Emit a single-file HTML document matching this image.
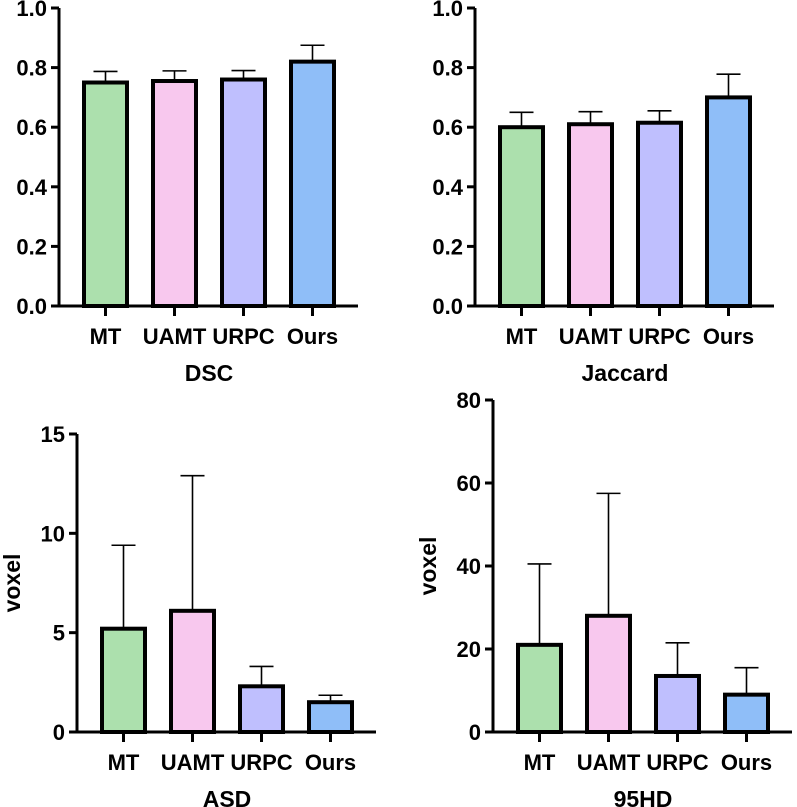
<!DOCTYPE html>
<html><head><meta charset="utf-8"><style>
body{margin:0;background:#fff;}
svg{display:block;font-family:"Liberation Sans",Arial,sans-serif;font-weight:bold;}
</style></head><body>
<svg id="c" width="797" height="807"></svg>
<script>
const categories=["MT","UAMT","URPC","Ours"];
const colors=["#ace0ad","#f8c8ee","#bfbffe","#8fbef8"];
const dscValues=[0.75,0.755,0.76,0.82];
const dscErr=[0.787,0.789,0.79,0.875];
const jacValues=[0.60,0.61,0.615,0.70];
const jacErr=[0.65,0.652,0.655,0.778];
const asdValues=[5.2,6.1,2.3,1.5];
const asdErr=[9.4,12.9,3.3,1.85];
const hdValues=[21,28,13.5,9];
const hdErr=[40.5,57.5,21.5,15.5];
const dscTicks=["0.0","0.2","0.4","0.6","0.8","1.0"];
const asdTicks=["0","5","10","15"];
const hdTicks=["0","20","40","60","80"];
const svg=document.getElementById('c');
const NS="http://www.w3.org/2000/svg";
function mk(t,a,p){const e=document.createElementNS(NS,t);for(const k in a)e.setAttribute(k,a[k]);(p||svg).appendChild(e);return e;}
function panel(name,ax,y0,y1,max,ticks,vals,errs,title,ylabel){
  const g=mk('g',{});
  
  
  const ys=v=>y0-(v/max)*(y0-y1);
  const xs=i=>ax+25+i*69;
  mk('line',{x1:ax,y1:y1,x2:ax,y2:y0,stroke:'#000','stroke-width':3},g);
  mk('line',{x1:ax-8,y1:y0,x2:ax+299,y2:y0,stroke:'#000','stroke-width':3},g);
  ticks.forEach(t=>{const v=parseFloat(t);const y=ys(v);
    mk('line',{x1:ax-8,y1:y,x2:ax,y2:y,stroke:'#000','stroke-width':3},g);
    const tx=mk('text',{x:ax-12,y:y+8,'text-anchor':'end','font-size':22},g);tx.textContent=t;
    
    
  });
  vals.forEach((v,i)=>{
    const x=xs(i),w=43,c=x+w/2;
    const el=mk('line',{x1:c,y1:ys(v),x2:c,y2:ys(errs[i]),stroke:'#000','stroke-width':1.6},g);
    
    
    mk('line',{x1:c-12,y1:ys(errs[i]),x2:c+12,y2:ys(errs[i]),stroke:'#000','stroke-width':1.6},g);
    const r=mk('rect',{x:x,y:ys(v),width:w,height:y0-ys(v),fill:colors[i],stroke:'#000','stroke-width':4},g);
    
    
    mk('line',{x1:c,y1:y0,x2:c,y2:y0+10,stroke:'#000','stroke-width':3},g);
    const t=mk('text',{x:c,y:y0+38,'text-anchor':'middle','font-size':22},g);t.textContent=categories[i];
    
    
  });
  const tt=mk('text',{x:ax+150,y:y0+75,'text-anchor':'middle','font-size':23},g);tt.textContent=title;
  
  
  if(ylabel){const yl=mk('text',{x:0,y:0,'text-anchor':'middle','font-size':23,transform:`translate(${ax-57},${(y0+y1)/2}) rotate(-90)`},g);yl.textContent=ylabel;
    
    }
}
panel('dsc',59,306,8,1.0,dscTicks,dscValues,dscErr,'DSC',null);
panel('jaccard',475,306,8,1.0,dscTicks,jacValues,jacErr,'Jaccard',null);
panel('asd',77,732,434,15,asdTicks,asdValues,asdErr,'ASD','voxel');
panel('hd95',493,732,400,80,hdTicks,hdValues,hdErr,'95HD','voxel');
</script>
</body></html>
